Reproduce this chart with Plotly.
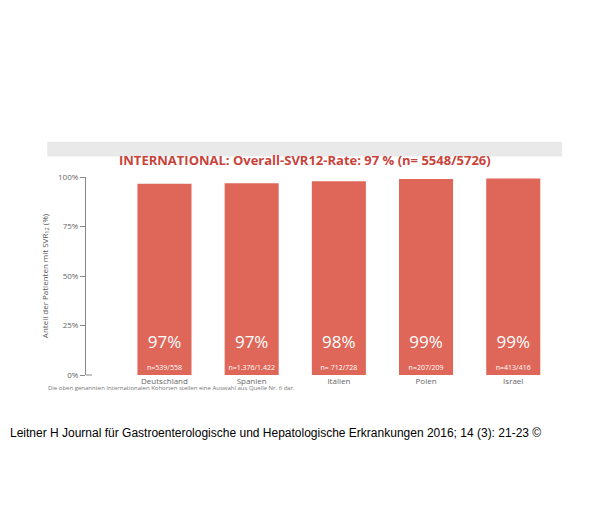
import plotly.graph_objects as go

categories = ["Deutschland", "Spanien", "Italien", "Polen", "Israel"]
values = [96.6, 96.8, 97.8, 99.0, 99.3]
pct_labels = ["97%", "97%", "98%", "99%", "99%"]
n_labels = ["n=539/558", "n=1.376/1.422", "n= 712/728", "n=207/209", "n=413/416"]
tick_vals = [0, 25, 50, 75, 100]
tick_text = ["0%", "25%", "50%", "75%", "100%"]

bar_text = [f"{p}<br><span style='font-size:7px'>{n}</span>" for p, n in zip(pct_labels, n_labels)]

fig = go.Figure()
fig.add_bar(x=list(range(len(categories))), y=values, width=0.62,
            text=bar_text, textposition="inside", insidetextanchor="start",
            textangle=0, cliponaxis=False,
            textfont=dict(family="Open Sans", size=17, color="white"),
            marker=dict(color="#df6759", line_width=0), hoverinfo="skip")

fig.update_layout(
    width=600, height=511, showlegend=False,
    paper_bgcolor="white", plot_bgcolor="white",
    margin=dict(l=78, r=25, t=169, b=144, autoexpand=False),
    uniformtext=dict(mode=False),
    xaxis=dict(range=[-0.9, 4.8], tickvals=list(range(len(categories))), ticktext=categories,
               showgrid=False, zeroline=False, showline=False, ticks="", automargin=False,
               tickfont=dict(family="Open Sans", size=8, color="#666")),
    yaxis=dict(range=[0, 100], tickvals=tick_vals, ticktext=tick_text, showgrid=False,
               zeroline=False, showline=True, linecolor="#888", linewidth=1, automargin=False,
               ticks="outside", ticklen=5, tickcolor="#888",
               tickfont=dict(family="Open Sans", size=8, color="#666"),
               title=dict(text="Anteil der Patienten mit SVR<sub>12</sub> (%)",
                          font=dict(family="Open Sans", size=8, color="#555"), standoff=8)),
    shapes=[
        dict(type="rect", xref="paper", yref="paper", x0=-0.078, x1=0.958, y0=1.103, y1=1.178,
             fillcolor="#e9e9e9", line_width=0, layer="below"),
        dict(type="line", xref="paper", yref="paper", x0=0, x1=0.012, y0=0, y1=0,
             line=dict(color="#888", width=1)),
    ],
    annotations=[
        dict(xref="paper", yref="paper", x=0.44, y=1.14, showarrow=False,
             text="<b>INTERNATIONAL: Overall-SVR12-Rate: 97 % (n= 5548/5726)</b>",
             font=dict(family="Open Sans", size=13, color="#c9433a")),
        dict(xref="paper", yref="paper", x=-0.08, y=-0.095, xanchor="left", showarrow=False,
             text="Die oben genannten Internationalen Kohorten stellen eine Auswahl aus Quelle Nr. 6 dar.",
             font=dict(family="Open Sans", size=6, color="#777")),
        dict(xref="paper", yref="paper", x=-0.157, y=-0.34, xanchor="left", showarrow=False,
             text="Leitner H Journal für Gastroenterologische und Hepatologische Erkrankungen 2016; 14 (3): 21-23 ©",
             font=dict(family="Arial", size=12, color="black")),
    ],
)
fig.write_html("out.html")
